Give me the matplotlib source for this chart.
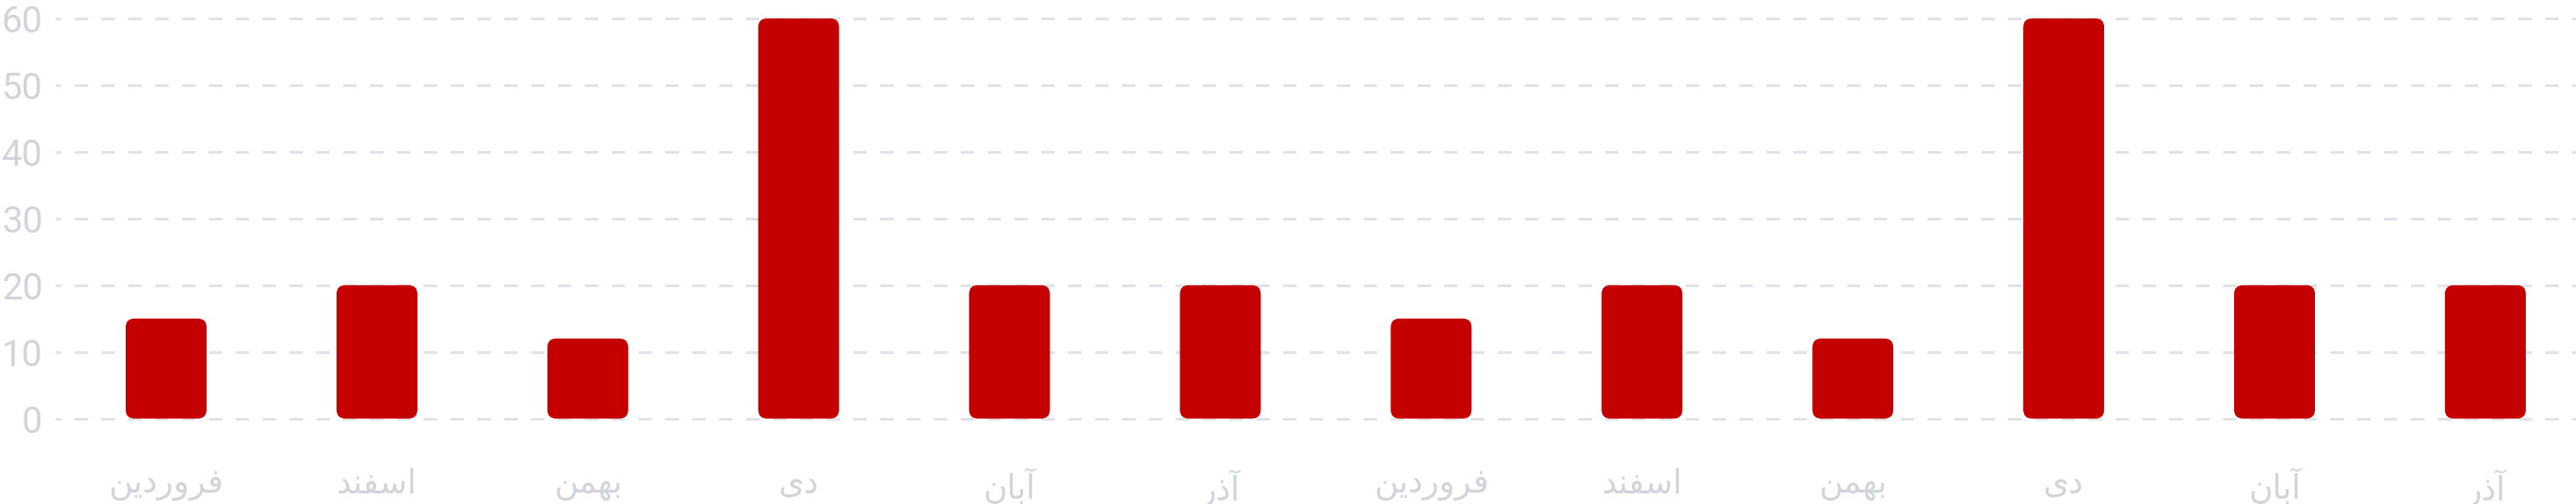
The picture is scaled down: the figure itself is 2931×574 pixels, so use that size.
import matplotlib
matplotlib.use("Agg")
import matplotlib.pyplot as plt
from matplotlib.patches import FancyBboxPatch

# ---- data ----
categories = ["فروردین", "اسفند", "بهمن", "دی", "آبان", "آذر",
              "فروردین", "اسفند", "بهمن", "دی", "آبان", "آذر"]
values = [15, 20, 12, 60, 20, 20, 15, 20, 12, 60, 20, 20]
y_ticks = [0, 10, 20, 30, 40, 50, 60]

BAR_COLOR = "#c40000"
LABEL_COLOR = "#d1d5db"
GRID_COLOR = "#dfe2e6"

# minimal Persian shaping (matplotlib has no complex text layout)
FORMS = {
    'ا': ('\uFE8D', '\uFE8E', None, None),
    'آ': ('\uFE81', '\uFE82', None, None),
    'ب': ('\uFE8F', '\uFE90', '\uFE91', '\uFE92'),
    'د': ('\uFEA9', '\uFEAA', None, None),
    'ذ': ('\uFEAB', '\uFEAC', None, None),
    'ر': ('\uFEAD', '\uFEAE', None, None),
    'س': ('\uFEB1', '\uFEB2', '\uFEB3', '\uFEB4'),
    'ف': ('\uFED1', '\uFED2', '\uFED3', '\uFED4'),
    'م': ('\uFEE1', '\uFEE2', '\uFEE3', '\uFEE4'),
    'ن': ('\uFEE5', '\uFEE6', '\uFEE7', '\uFEE8'),
    'ه': ('\uFEE9', '\uFEEA', '\uFEEB', '\uFEEC'),
    'و': ('\uFEED', '\uFEEE', None, None),
    'ی': ('\uFBFC', '\uFBFD', '\uFBFE', '\uFBFF'),
}


def shape(word):
    out = []
    n = len(word)
    for i, ch in enumerate(word):
        f = FORMS.get(ch)
        if f is None:
            out.append(ch)
            continue
        prev = FORMS.get(word[i - 1]) if i > 0 else None
        nxt = FORMS.get(word[i + 1]) if i < n - 1 else None
        jp = prev is not None and prev[2] is not None
        jn = nxt is not None and f[2] is not None
        if jp and jn:
            out.append(f[3])
        elif jp:
            out.append(f[1])
        elif jn:
            out.append(f[2])
        else:
            out.append(f[0])
    return "".join(reversed(out))


W, H = 2931, 574
DPI = 100
fig = plt.figure(figsize=(W / DPI, H / DPI), dpi=DPI)

ymin, ymax = -1, 61
y0_px, y60_px = 476.7, 21.0
ppu = (y0_px - y60_px) / 60.0
bottom_px = y0_px + (0 - ymin) * ppu
top_px = y60_px - (ymax - 60) * ppu

left_px = 63
x_first = 189.0
step = 239.9
xmin = -(x_first - left_px) / step
xmax = (W - x_first) / step

ax = fig.add_axes([left_px / W, (H - bottom_px) / H,
                   (W - left_px) / W, (bottom_px - top_px) / H])
ax.set_xlim(xmin, xmax)
ax.set_ylim(ymin, ymax)

for s in ax.spines.values():
    s.set_visible(False)

ax.set_yticks(y_ticks)
ax.set_yticklabels([str(t) for t in y_ticks])
ax.tick_params(axis='y', length=0, pad=10.5, labelsize=30, labelcolor=LABEL_COLOR)
for lab in ax.get_yticklabels():
    lab.set_fontfamily(['Roboto', 'DejaVu Sans'])

x = list(range(len(values)))
ax.set_xticks(x)
ax.set_xticklabels([shape(c) for c in categories])
ax.tick_params(axis='x', length=0, pad=36, labelsize=27, labelcolor=LABEL_COLOR)
for lab in ax.get_xticklabels():
    lab.set_fontfamily(['DejaVu Sans'])

for t in y_ticks:
    ax.axhline(t, color=GRID_COLOR, lw=2.2, linestyle=(3, (5, 5)), zorder=1)

bar_w = 92 / step
bars = ax.bar(x, values, width=bar_w, color="none", edgecolor="none")

# rounded corners: radius in px -> data units
r_px = 10
rx = r_px / step
aspect = step / ppu
for b in bars:
    bx, by = b.get_x(), b.get_y()
    bw, bh = b.get_width(), b.get_height()
    p = FancyBboxPatch((bx, by), bw, bh,
                       boxstyle=f"round,pad=0,rounding_size={rx}",
                       mutation_aspect=aspect,
                       facecolor=BAR_COLOR, edgecolor="none", zorder=3)
    ax.add_patch(p)

fig.savefig("out.png", dpi=DPI, facecolor="white")
